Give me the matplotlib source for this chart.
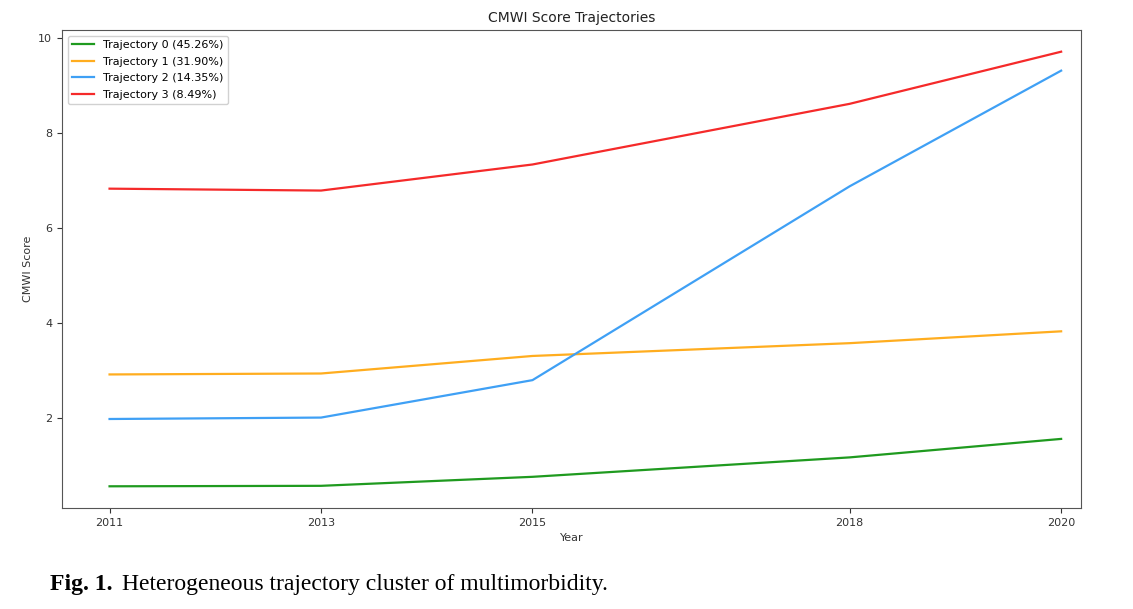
import matplotlib
matplotlib.use("Agg")
import matplotlib.pyplot as plt

years = [2011, 2013, 2015, 2018, 2020]
labels = [
    "Trajectory 0 (45.26%)",
    "Trajectory 1 (31.90%)",
    "Trajectory 2 (14.35%)",
    "Trajectory 3 (8.49%)",
]
traj0 = [0.55, 0.56, 0.75, 1.16, 1.55]
traj1 = [2.91, 2.93, 3.30, 3.57, 3.82]
traj2 = [1.97, 2.00, 2.79, 6.88, 9.32]
traj3 = [6.83, 6.79, 7.34, 8.62, 9.72]
colors = ["#1f9a1f", "#ffad1f", "#3fa0f5", "#f52a2a"]

fig = plt.figure(figsize=(11.33, 6.09), dpi=100)
ax = fig.add_axes([0.0547, 0.1658, 0.8996, 0.785])

for vals, lab, col in zip([traj0, traj1, traj2, traj3], labels, colors):
    ax.plot(years, vals, color=col, linewidth=1.6, label=lab)

ax.set_xlim(2010.55, 2020.19)
ax.set_xticks(years)
ax.set_yticks([2, 4, 6, 8, 10])
ax.tick_params(labelsize=8, colors="#333333")
ax.set_title("CMWI Score Trajectories", fontsize=10, color="#222222")
ax.set_xlabel("Year", fontsize=8, color="#333333")
ax.set_ylabel("CMWI Score", fontsize=8, color="#333333")
for s in ax.spines.values():
    s.set_color("#555555")
ax.legend(loc="upper left", fontsize=8, framealpha=0.9, labelspacing=0.6)

fig.text(0.044, 0.032, "Fig. 1.", fontsize=17, fontweight="bold",
         family="Liberation Serif", va="baseline")
fig.text(0.108, 0.032, "Heterogeneous trajectory cluster of multimorbidity.",
         fontsize=17, family="Liberation Serif", va="baseline")

fig.savefig("out.png", dpi=100)
